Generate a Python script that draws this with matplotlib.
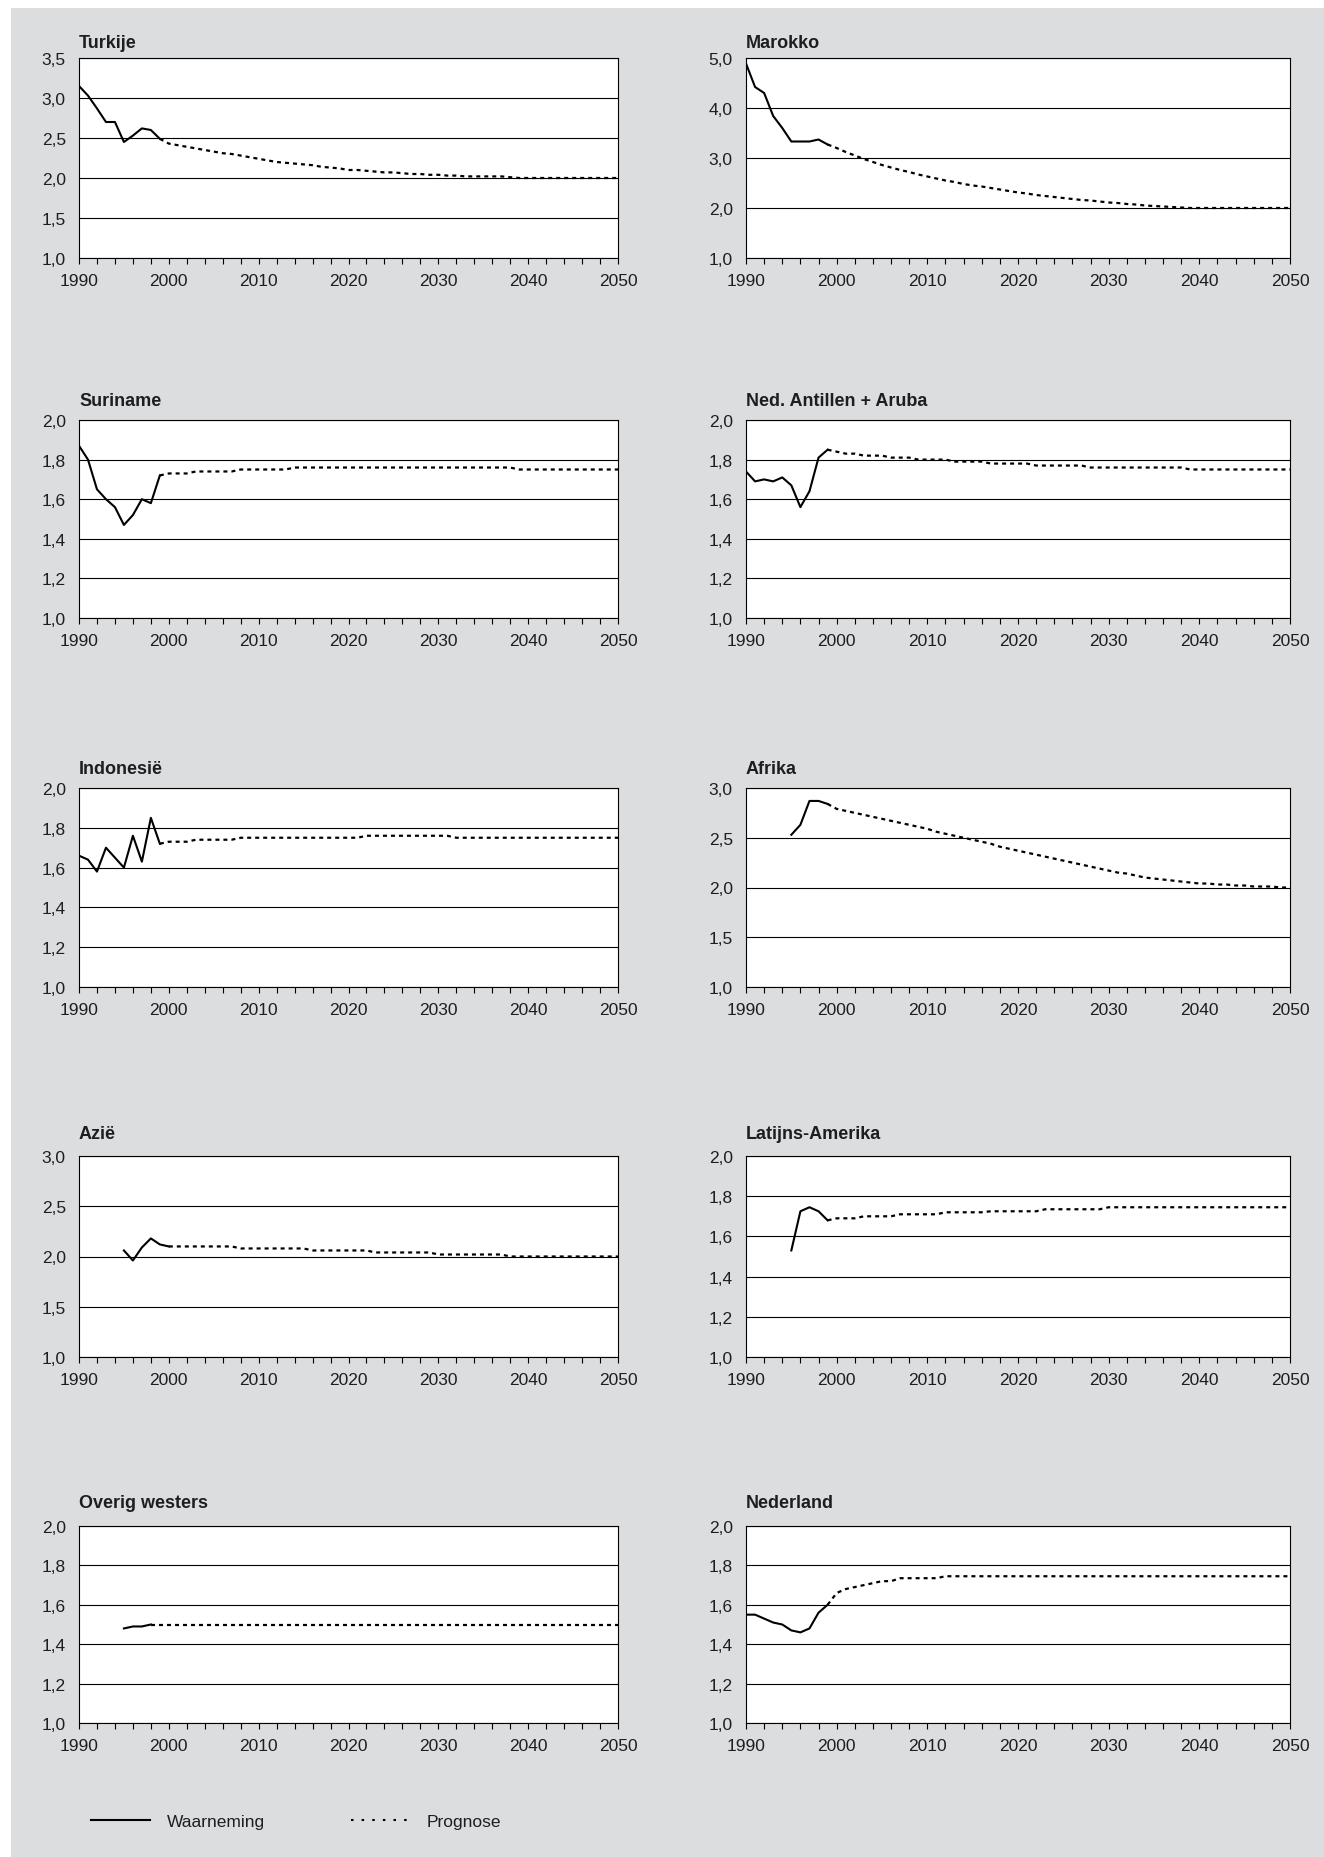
import matplotlib
matplotlib.use('Agg')
import matplotlib.pyplot as plt
import matplotlib.ticker as mticker
from matplotlib.patches import Rectangle
from matplotlib.lines import Line2D

plt.rcParams['font.family'] = ['Liberation Sans', 'DejaVu Sans']

# ---------------- data ----------------
titles = ['Turkije', 'Marokko', 'Suriname', 'Ned. Antillen + Aruba', 'Indonesië',
          'Afrika', 'Azië', 'Latijns-Amerika', 'Overig westers', 'Nederland']

obs_start = [1990, 1990, 1990, 1990, 1990, 1995, 1995, 1995, 1995, 1990]
prog_start = [1999, 1999, 1999, 1999, 1999, 1999, 2000, 1999, 1998, 1999]

turkije_obs = [3.15, 3.03, 2.87, 2.70, 2.70, 2.45, 2.53, 2.62, 2.60, 2.49]
turkije_prog = [2.49, 2.43, 2.41, 2.39, 2.37, 2.35, 2.33, 2.31, 2.30, 2.28,
                2.26, 2.24, 2.22, 2.20, 2.19, 2.18, 2.17, 2.16, 2.14, 2.13,
                2.12, 2.10, 2.10, 2.09, 2.08, 2.07, 2.07, 2.06, 2.05, 2.05,
                2.04, 2.04, 2.03, 2.03, 2.02, 2.02, 2.02, 2.02, 2.02, 2.01,
                2.00, 2.00, 2.00, 2.00, 2.00, 2.00, 2.00, 2.00, 2.00, 2.00,
                2.00, 2.00]

marokko_obs = [4.89, 4.42, 4.30, 3.84, 3.60, 3.33, 3.33, 3.33, 3.37, 3.27]
marokko_prog = [3.27, 3.20, 3.12, 3.05, 2.98, 2.92, 2.86, 2.81, 2.76, 2.72,
                2.67, 2.63, 2.59, 2.55, 2.52, 2.48, 2.45, 2.43, 2.40, 2.37,
                2.34, 2.31, 2.29, 2.26, 2.24, 2.22, 2.20, 2.18, 2.16, 2.15,
                2.13, 2.11, 2.10, 2.08, 2.07, 2.05, 2.04, 2.03, 2.02, 2.01,
                2.00, 2.00, 2.00, 2.00, 2.00, 2.00, 2.00, 2.00, 2.00, 2.00,
                2.00, 2.00]

suriname_obs = [1.87, 1.80, 1.65, 1.60, 1.56, 1.47, 1.52, 1.60, 1.58, 1.72]
suriname_prog = [1.72, 1.73, 1.73, 1.73, 1.74, 1.74, 1.74, 1.74, 1.74, 1.75,
                 1.75, 1.75, 1.75, 1.75, 1.75, 1.76, 1.76, 1.76, 1.76, 1.76,
                 1.76, 1.76, 1.76, 1.76, 1.76, 1.76, 1.76, 1.76, 1.76, 1.76,
                 1.76, 1.76, 1.76, 1.76, 1.76, 1.76, 1.76, 1.76, 1.76, 1.76,
                 1.75, 1.75, 1.75, 1.75, 1.75, 1.75, 1.75, 1.75, 1.75, 1.75,
                 1.75, 1.75]

antillen_obs = [1.74, 1.69, 1.70, 1.69, 1.71, 1.67, 1.56, 1.64, 1.81, 1.85]
antillen_prog = [1.85, 1.84, 1.83, 1.83, 1.82, 1.82, 1.82, 1.81, 1.81, 1.81,
                 1.80, 1.80, 1.80, 1.80, 1.79, 1.79, 1.79, 1.79, 1.78, 1.78,
                 1.78, 1.78, 1.78, 1.77, 1.77, 1.77, 1.77, 1.77, 1.77, 1.76,
                 1.76, 1.76, 1.76, 1.76, 1.76, 1.76, 1.76, 1.76, 1.76, 1.76,
                 1.75, 1.75, 1.75, 1.75, 1.75, 1.75, 1.75, 1.75, 1.75, 1.75,
                 1.75, 1.75]

indonesie_obs = [1.66, 1.64, 1.58, 1.70, 1.65, 1.60, 1.76, 1.63, 1.85, 1.72]
indonesie_prog = [1.72, 1.73, 1.73, 1.73, 1.74, 1.74, 1.74, 1.74, 1.74, 1.75,
                  1.75, 1.75, 1.75, 1.75, 1.75, 1.75, 1.75, 1.75, 1.75, 1.75,
                  1.75, 1.75, 1.75, 1.76, 1.76, 1.76, 1.76, 1.76, 1.76, 1.76,
                  1.76, 1.76, 1.76, 1.75, 1.75, 1.75, 1.75, 1.75, 1.75, 1.75,
                  1.75, 1.75, 1.75, 1.75, 1.75, 1.75, 1.75, 1.75, 1.75, 1.75,
                  1.75, 1.75]

afrika_obs = [2.53, 2.63, 2.87, 2.87, 2.84]
afrika_prog = [2.84, 2.79, 2.77, 2.75, 2.73, 2.71, 2.69, 2.67, 2.65, 2.63,
               2.61, 2.59, 2.56, 2.54, 2.52, 2.50, 2.48, 2.46, 2.44, 2.41,
               2.39, 2.37, 2.35, 2.33, 2.31, 2.29, 2.27, 2.25, 2.23, 2.21,
               2.19, 2.17, 2.15, 2.14, 2.12, 2.10, 2.09, 2.08, 2.07, 2.06,
               2.05, 2.04, 2.04, 2.03, 2.03, 2.02, 2.02, 2.01, 2.01, 2.01,
               2.00, 2.00]

azie_obs = [2.06, 1.96, 2.09, 2.18, 2.12, 2.10]
azie_prog = [2.10, 2.10, 2.10, 2.10, 2.10, 2.10, 2.10, 2.10, 2.08, 2.08,
             2.08, 2.08, 2.08, 2.08, 2.08, 2.08, 2.06, 2.06, 2.06, 2.06,
             2.06, 2.06, 2.06, 2.04, 2.04, 2.04, 2.04, 2.04, 2.04, 2.04,
             2.02, 2.02, 2.02, 2.02, 2.02, 2.02, 2.02, 2.02, 2.00, 2.00,
             2.00, 2.00, 2.00, 2.00, 2.00, 2.00, 2.00, 2.00, 2.00, 2.00,
             2.00]

latam_obs = [1.53, 1.725, 1.745, 1.725, 1.68]
latam_prog = [1.68, 1.69, 1.69, 1.69, 1.70, 1.70, 1.70, 1.70, 1.71, 1.71,
              1.71, 1.71, 1.71, 1.72, 1.72, 1.72, 1.72, 1.72, 1.725, 1.725,
              1.725, 1.725, 1.725, 1.725, 1.735, 1.735, 1.735, 1.735, 1.735, 1.735,
              1.735, 1.745, 1.745, 1.745, 1.745, 1.745, 1.745, 1.745, 1.745, 1.745,
              1.745, 1.745, 1.745, 1.745, 1.745, 1.745, 1.745, 1.745, 1.745, 1.745,
              1.745, 1.745]

westers_obs = [1.48, 1.49, 1.49, 1.50]
westers_prog = [1.50, 1.50, 1.50, 1.50, 1.50, 1.50, 1.50, 1.50, 1.50, 1.50,
                1.50, 1.50, 1.50, 1.50, 1.50, 1.50, 1.50, 1.50, 1.50, 1.50,
                1.50, 1.50, 1.50, 1.50, 1.50, 1.50, 1.50, 1.50, 1.50, 1.50,
                1.50, 1.50, 1.50, 1.50, 1.50, 1.50, 1.50, 1.50, 1.50, 1.50,
                1.50, 1.50, 1.50, 1.50, 1.50, 1.50, 1.50, 1.50, 1.50, 1.50,
                1.50, 1.50, 1.50]

nederland_obs = [1.55, 1.55, 1.53, 1.51, 1.50, 1.47, 1.46, 1.48, 1.56, 1.60]
nederland_prog = [1.60, 1.66, 1.68, 1.69, 1.70, 1.71, 1.72, 1.72, 1.735, 1.735,
                  1.735, 1.735, 1.735, 1.745, 1.745, 1.745, 1.745, 1.745, 1.745, 1.745,
                  1.745, 1.745, 1.745, 1.745, 1.745, 1.745, 1.745, 1.745, 1.745, 1.745,
                  1.745, 1.745, 1.745, 1.745, 1.745, 1.745, 1.745, 1.745, 1.745, 1.745,
                  1.745, 1.745, 1.745, 1.745, 1.745, 1.745, 1.745, 1.745, 1.745, 1.745,
                  1.745, 1.745]

obs_series = [turkije_obs, marokko_obs, suriname_obs, antillen_obs, indonesie_obs,
              afrika_obs, azie_obs, latam_obs, westers_obs, nederland_obs]
prog_series = [turkije_prog, marokko_prog, suriname_prog, antillen_prog, indonesie_prog,
               afrika_prog, azie_prog, latam_prog, westers_prog, nederland_prog]

y_max = [3.5, 5.0, 2.0, 2.0, 2.0, 3.0, 3.0, 2.0, 2.0, 2.0]
y_step = [0.5, 1.0, 0.2, 0.2, 0.2, 0.5, 0.5, 0.2, 0.2, 0.2]
y_min = 1.0
x_major = [1990, 2000, 2010, 2020, 2030, 2040, 2050]
legend_labels = ['Waarneming', 'Prognose']

# ---------------- layout ----------------
W, H = 1324, 1858
fig = plt.figure(figsize=(W / 100, H / 100), dpi=100)
fig.patch.set_facecolor('white')
fig.patches.append(Rectangle((11 / W, 0), 1, 1 - 9 / H, transform=fig.transFigure,
                             facecolor='#dcdddf', edgecolor='none', zorder=-10))

col_left = [79, 746]
col_right = [618, 1290]
row_top = [59, 421, 789, 1157, 1527]
row_bottom = [259, 619, 988, 1358, 1724]
title_gap = [11, 15, 15, 18, 19]  # px between axes top and title baseline

FS = 12.5
TXT = '#1e1e1e'
fmt = mticker.FuncFormatter(lambda v, p: f'{v:.1f}'.replace('.', ','))
DOT = (0, (1.8, 1.8))

for i, title in enumerate(titles):
    col, row = i % 2, i // 2
    l, r = col_left[col], col_right[col]
    t, b = row_top[row], row_bottom[row]
    ax = fig.add_axes([l / W, 1 - b / H, (r - l) / W, (b - t) / H])
    ax.set_facecolor('white')

    obs = obs_series[i]
    prog = prog_series[i]
    obs_years = [obs_start[i] + k for k in range(len(obs))]
    prog_years = [prog_start[i] + k for k in range(len(prog))]
    ax.plot(obs_years, obs, color='black', lw=1.5, zorder=3)
    ax.plot(prog_years, prog, color='black', lw=1.6, linestyle=DOT, zorder=3)

    ax.set_xlim(1990, 2050)
    ax.set_ylim(y_min, y_max[i])
    ax.yaxis.set_major_locator(mticker.MultipleLocator(y_step[i]))
    ax.yaxis.set_major_formatter(fmt)
    ax.set_xticks(x_major)
    ax.xaxis.set_minor_locator(mticker.MultipleLocator(2))
    ax.tick_params(axis='x', which='both', direction='out', length=4.5,
                   width=0.8, color='black')
    ax.tick_params(axis='x', which='major', pad=6, labelsize=FS, labelcolor=TXT)
    ax.tick_params(axis='y', length=0, pad=9.5, labelsize=FS, labelcolor=TXT)
    ax.yaxis.grid(True, color='black', lw=0.8)
    ax.set_axisbelow(True)
    for s in ax.spines.values():
        s.set_color('black')
        s.set_linewidth(0.8)

    ax.set_title(title, loc='left', fontsize=13, fontweight='bold', color=TXT,
                 pad=title_gap[row] * 0.72)

legend_handles = [Line2D([], [], color='black', lw=1.5),
                  Line2D([], [], color='black', lw=1.5, linestyle=(0, (1.2, 3.9)))]
fig.legend(handles=legend_handles, labels=legend_labels, loc='center left',
           bbox_to_anchor=(91 / W, 1 - 1822 / H), ncol=2, frameon=False,
           fontsize=FS, handlelength=3.4, handletextpad=1.0,
           columnspacing=4.9, borderpad=0, borderaxespad=0, labelcolor=TXT)

fig.savefig('out.png', dpi=100, facecolor=fig.get_facecolor())
